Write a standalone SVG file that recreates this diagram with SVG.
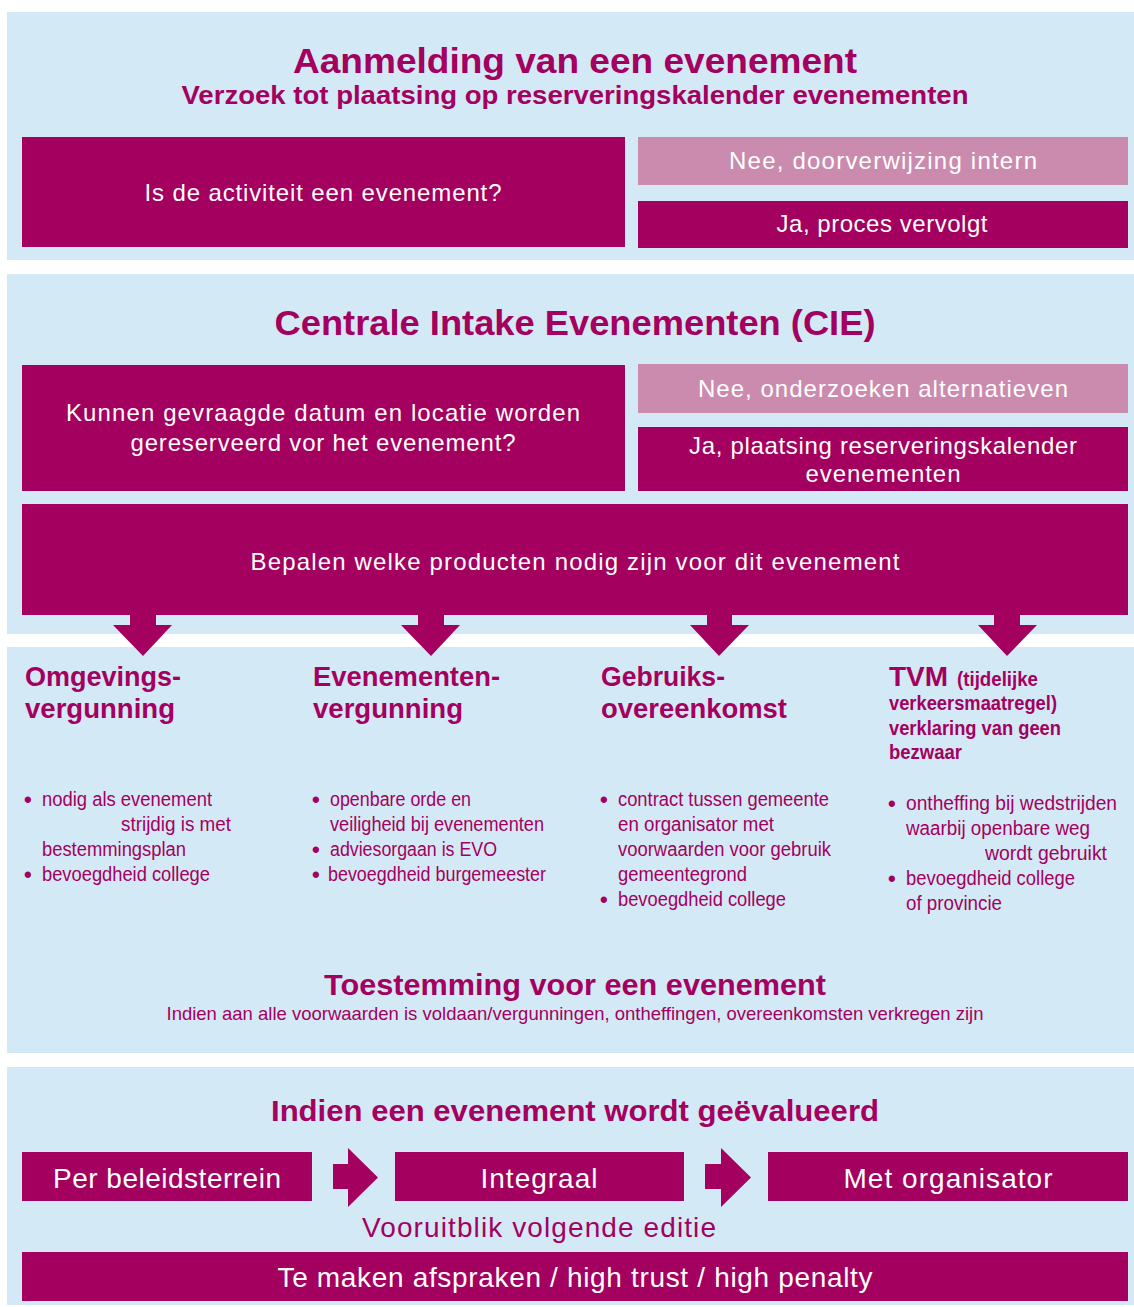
<svg xmlns="http://www.w3.org/2000/svg" width="1134" height="1307" viewBox="0 0 1134 1307">
<style>
.panel{fill:#d4e9f6}
.mag{fill:#a30060}
.pink{fill:#cb8bae}
.t{font-family:"Liberation Sans",Arial,sans-serif}
.title{font-weight:bold;fill:#a30060;text-anchor:middle}
.wt{fill:#ffffff;text-anchor:middle;font-size:24px}
.wb{fill:#ffffff;text-anchor:middle;font-size:28px}
.hd{font-weight:bold;fill:#a30060;font-size:27px}
.hs{font-weight:bold;fill:#a30060;font-size:20px}
.bl{fill:#a30060;font-size:20px}
.bu{fill:#a30060;font-size:22px;font-weight:bold}
.arrow{fill:#a30060}
</style>
<rect width="1134" height="1307" fill="#ffffff"/>

<g id="panel-aanmelding">
<rect class="panel" x="7" y="12" width="1127" height="248"/>
<text class="t title" x="575" y="73" font-size="35" textLength="564" lengthAdjust="spacingAndGlyphs">Aanmelding van een evenement</text>
<text class="t title" x="575" y="104" font-size="25" textLength="787" lengthAdjust="spacingAndGlyphs">Verzoek tot plaatsing op reserveringskalender evenementen</text>
</g>
<g id="node-activiteit">
<rect class="mag" x="22" y="137" width="603" height="110"/>
<text class="t wt" x="323" y="201" textLength="357" lengthAdjust="spacing">Is de activiteit een evenement?</text>
</g>
<g id="node-nee-intern">
<rect class="pink" x="638" y="137" width="490" height="48"/>
<text class="t wt" x="883" y="169" textLength="308" lengthAdjust="spacing">Nee, doorverwijzing intern</text>
</g>
<g id="node-ja-vervolgt">
<rect class="mag" x="638" y="201" width="490" height="47"/>
<text class="t wt" x="882" y="232" textLength="211" lengthAdjust="spacing">Ja, proces vervolgt</text>
</g>

<g id="panel-cie">
<rect class="panel" x="7" y="274" width="1127" height="360"/>
<text class="t title" x="575" y="335" font-size="35" textLength="601" lengthAdjust="spacingAndGlyphs">Centrale Intake Evenementen (CIE)</text>
</g>
<g id="node-datum">
<rect class="mag" x="22" y="365" width="603" height="126"/>
<text class="t wt" x="323" y="421" textLength="514" lengthAdjust="spacing">Kunnen gevraagde datum en locatie worden</text>
<text class="t wt" x="323" y="451" textLength="385" lengthAdjust="spacing">gereserveerd vor het evenement?</text>
</g>
<g id="node-nee-alternatieven">
<rect class="pink" x="638" y="364" width="490" height="49"/>
<text class="t wt" x="883" y="397" textLength="370" lengthAdjust="spacing">Nee, onderzoeken alternatieven</text>
</g>
<g id="node-ja-plaatsing">
<rect class="mag" x="638" y="427" width="490" height="64"/>
<text class="t wt" x="883" y="454" textLength="388" lengthAdjust="spacing">Ja, plaatsing reserveringskalender</text>
<text class="t wt" x="883" y="482" textLength="155" lengthAdjust="spacing">evenementen</text>
</g>
<g id="node-bepalen">
<rect class="mag" x="22" y="504" width="1106" height="111"/>
<text class="t wt" x="575" y="570" textLength="649" lengthAdjust="spacing">Bepalen welke producten nodig zijn voor dit evenement</text>
</g>

<g id="panel-producten">
<rect class="panel" x="7" y="647" width="1127" height="406"/>
</g>

<g id="node-omgevingsvergunning">
<text class="t hd" x="25" y="686" textLength="156" lengthAdjust="spacingAndGlyphs">Omgevings-</text>
<text class="t hd" x="25" y="718" textLength="150" lengthAdjust="spacingAndGlyphs">vergunning</text>
<text class="t bu" x="24" y="807">•</text>
<text class="t bl" x="42" y="806" textLength="170" lengthAdjust="spacingAndGlyphs">nodig als evenement</text>
<text class="t bl" x="121" y="831" textLength="110" lengthAdjust="spacingAndGlyphs">strijdig is met</text>
<text class="t bl" x="42" y="856" textLength="144" lengthAdjust="spacingAndGlyphs">bestemmingsplan</text>
<text class="t bu" x="24" y="882">•</text>
<text class="t bl" x="42" y="881" textLength="168" lengthAdjust="spacingAndGlyphs">bevoegdheid college</text>
</g>

<g id="node-evenementenvergunning">
<text class="t hd" x="313" y="686" textLength="187" lengthAdjust="spacingAndGlyphs">Evenementen-</text>
<text class="t hd" x="313" y="718" textLength="150" lengthAdjust="spacingAndGlyphs">vergunning</text>
<text class="t bu" x="312" y="807">•</text>
<text class="t bl" x="330" y="806" textLength="141" lengthAdjust="spacingAndGlyphs">openbare orde en</text>
<text class="t bl" x="330" y="831" textLength="214" lengthAdjust="spacingAndGlyphs">veiligheid bij evenementen</text>
<text class="t bu" x="312" y="857">•</text>
<text class="t bl" x="330" y="856" textLength="167" lengthAdjust="spacingAndGlyphs">adviesorgaan is EVO</text>
<text class="t bu" x="312" y="882">•</text>
<text class="t bl" x="328" y="881" textLength="218" lengthAdjust="spacingAndGlyphs">bevoegdheid burgemeester</text>
</g>

<g id="node-gebruiksovereenkomst">
<text class="t hd" x="601" y="686" textLength="124" lengthAdjust="spacingAndGlyphs">Gebruiks-</text>
<text class="t hd" x="601" y="718" textLength="186" lengthAdjust="spacingAndGlyphs">overeenkomst</text>
<text class="t bu" x="600" y="807">•</text>
<text class="t bl" x="618" y="806" textLength="211" lengthAdjust="spacingAndGlyphs">contract tussen gemeente</text>
<text class="t bl" x="618" y="831" textLength="156" lengthAdjust="spacingAndGlyphs">en organisator met</text>
<text class="t bl" x="618" y="856" textLength="213" lengthAdjust="spacingAndGlyphs">voorwaarden voor gebruik</text>
<text class="t bl" x="618" y="881" textLength="129" lengthAdjust="spacingAndGlyphs">gemeentegrond</text>
<text class="t bu" x="600" y="907">•</text>
<text class="t bl" x="618" y="906" textLength="168" lengthAdjust="spacingAndGlyphs">bevoegdheid college</text>
</g>

<g id="node-tvm">
<text class="t hd" x="889" y="686" textLength="59" lengthAdjust="spacingAndGlyphs">TVM</text>
<text class="t hs" x="957" y="686" textLength="81" lengthAdjust="spacingAndGlyphs">(tijdelijke</text>
<text class="t hs" x="889" y="710" textLength="168" lengthAdjust="spacingAndGlyphs">verkeersmaatregel)</text>
<text class="t hs" x="889" y="735" textLength="172" lengthAdjust="spacingAndGlyphs">verklaring van geen</text>
<text class="t hs" x="889" y="759" textLength="73" lengthAdjust="spacingAndGlyphs">bezwaar</text>
<text class="t bu" x="888" y="811">•</text>
<text class="t bl" x="906" y="810" textLength="211" lengthAdjust="spacingAndGlyphs">ontheffing bij wedstrijden</text>
<text class="t bl" x="906" y="835" textLength="184" lengthAdjust="spacingAndGlyphs">waarbij openbare weg</text>
<text class="t bl" x="985" y="860" textLength="122" lengthAdjust="spacingAndGlyphs">wordt gebruikt</text>
<text class="t bu" x="888" y="886">•</text>
<text class="t bl" x="906" y="885" textLength="169" lengthAdjust="spacingAndGlyphs">bevoegdheid college</text>
<text class="t bl" x="906" y="910" textLength="96" lengthAdjust="spacingAndGlyphs">of provincie</text>
</g>

<g id="node-toestemming">
<text class="t title" x="575" y="995" font-size="30" textLength="502" lengthAdjust="spacingAndGlyphs">Toestemming voor een evenement</text>
<text class="t" x="575" y="1020" font-size="19" fill="#a30060" text-anchor="middle" textLength="817" lengthAdjust="spacingAndGlyphs">Indien aan alle voorwaarden is voldaan/vergunningen, ontheffingen, overeenkomsten verkregen zijn</text>
</g>

<g id="panel-evaluatie">
<rect class="panel" x="7" y="1067" width="1127" height="238"/>
<text class="t title" x="575" y="1121" font-size="30" textLength="608" lengthAdjust="spacingAndGlyphs">Indien een evenement wordt geëvalueerd</text>
</g>
<g id="node-beleidsterrein">
<rect class="mag" x="22" y="1152" width="290" height="49"/>
<text class="t wb" x="167" y="1188" textLength="228" lengthAdjust="spacing">Per beleidsterrein</text>
</g>
<g id="node-integraal">
<rect class="mag" x="395" y="1152" width="289" height="49"/>
<text class="t wb" x="539" y="1188" textLength="117" lengthAdjust="spacing">Integraal</text>
</g>
<g id="node-organisator">
<rect class="mag" x="768" y="1152" width="360" height="49"/>
<text class="t wb" x="948" y="1188" textLength="209" lengthAdjust="spacing">Met organisator</text>
</g>
<g id="node-vooruitblik">
<text class="t" x="539" y="1237" font-size="28" fill="#a30060" text-anchor="middle" textLength="354" lengthAdjust="spacing">Vooruitblik volgende editie</text>
</g>
<g id="node-afspraken">
<rect class="mag" x="22" y="1252" width="1106" height="49"/>
<text class="t wb" x="575" y="1287" textLength="595" lengthAdjust="spacing">Te maken afspraken / high trust / high penalty</text>
</g>

<g id="connectors">
<path class="arrow" d="M130,614 H156 V625 H172 L143,656 L113,625 H130 Z"/>
<path class="arrow" d="M418,614 H444 V625 H460 L431,656 L401,625 H418 Z"/>
<path class="arrow" d="M707,614 H732 V625 H749 L719,656 L690,625 H707 Z"/>
<path class="arrow" d="M994,614 H1020 V625 H1037 L1007,656 L978,625 H994 Z"/>
<path class="arrow" d="M333,1164 H348 V1148 L378,1177.5 L348,1207 V1189 H333 Z"/>
<path class="arrow" d="M705,1164 H721 V1148 L751,1177.5 L721,1207 V1189 H705 Z"/>
</g>
</svg>
